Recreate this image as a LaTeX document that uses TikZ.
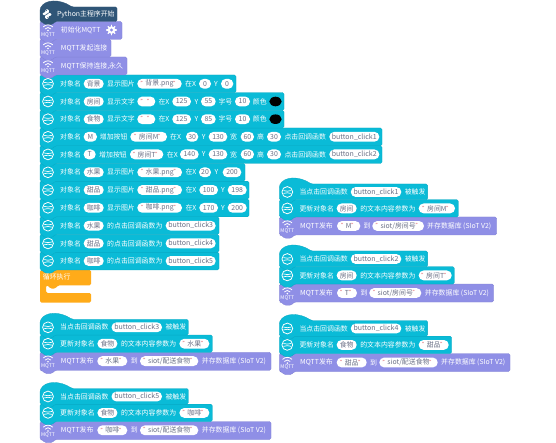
\documentclass[tikz,border=0pt]{standalone}
\usepackage{fontspec}
\setmainfont{Noto Sans CJK SC}
\definecolor{BlockCyan}{HTML}{0ABBD7}
\definecolor{EdgeCyan}{HTML}{08A8C2}
\definecolor{BlockPurple}{HTML}{8F8FE6}
\definecolor{EdgePurple}{HTML}{8080D4}
\definecolor{BlockOrange}{HTML}{FFAB19}
\definecolor{BlockNavy}{HTML}{2F5577}
\definecolor{PillText}{HTML}{6A7086}
\definecolor{QuoteRed}{HTML}{D0404A}
\tikzset{
  lbl/.style={anchor=west,inner sep=0pt,text=white,font=\fontsize{6.9}{8}\selectfont},
  pill/.style={fill=white,rounded corners=4.8pt,minimum height=9.8pt,inner sep=0pt,text=PillText,font=\fontsize{6.9}{8}\selectfont},
  cyanrow/.style={fill=BlockCyan,draw=EdgeCyan,line width=.3pt,rounded corners=1.5pt},
  purplerow/.style={fill=BlockPurple,draw=EdgePurple,line width=.3pt,rounded corners=1.5pt},
  objicon/.pic={
    \draw[white,line width=.8pt] (0,0) circle[radius=5.4];
    \draw[white,line width=.7pt] (-3.7,-1.4) .. controls (-1.5,-.6) and (1.5,-.6) .. (3.7,-1.4);
    \draw[white,line width=.7pt] (-3.7,1.4) .. controls (-1.5,.6) and (1.5,.6) .. (3.7,1.4);
  },
  wifiicon/.pic={
    \draw[white,line width=.8pt] (-4.6,-3.2) .. controls (-2.2,-5.8) and (2.2,-5.8) .. (4.6,-3.2);
    \draw[white,line width=.8pt] (-2.8,-1.1) .. controls (-1,-3) and (1,-3) .. (2.8,-1.1);
    \fill[white] (0,.6) circle[radius=.9];
    \node[inner sep=0pt,text=white,font=\fontsize{5}{6}\selectfont] at (0,5) {MQTT};
  },
  snakeicon/.pic={
    \fill[white,rounded corners=1pt] (-1.6,-4.7) -- (1.8,-4.7) -- (1.8,-.8) -- (-1,-.8) -- (-1,1) -- (-4.3,1) -- (-4.3,-1.6) -- (-1.6,-1.6) -- cycle;
    \fill[white,rounded corners=1pt] (1.6,4.7) -- (-1.8,4.7) -- (-1.8,.8) -- (1,.8) -- (1,-1) -- (4.3,-1) -- (4.3,1.6) -- (1.6,1.6) -- cycle;
    \fill[BlockNavy] (-.6,-3.6) circle[radius=.5];
    \fill[BlockNavy] (.6,3.6) circle[radius=.5];
  },
  gearicon/.pic={
    \foreach \a in {0,45,...,315}{\draw[white,line width=1.3pt] (0,0) -- (\a:4.8);}
    \fill[white] (0,0) circle[radius=3.8];
    \fill[BlockPurple] (0,0) circle[radius=1.7];
  }
}
\newcommand{\Lbl}[2]{\node[lbl] at (#1,\ry) {#2};}
\newcommand{\Pill}[3]{\node[pill,minimum width={#2-#1}] at ({(#1+#2)/2},\ry) {#3};}
\newcommand{\qmark}{\makebox[2.4pt]{\raisebox{.8pt}{\fontsize{5}{5}\selectfont\textcolor{QuoteRed}{"}}}}
\newcommand{\Q}[1]{\qmark\kern1.1pt #1\kern1.1pt\qmark}
\newcommand{\Btn}[1]{{\fontsize{7}{8}\selectfont button\_click#1}}
% style, left, top, right, bottom
\newcommand{\stackrow}[5]{\draw[#1] (#2,#3) -- (#4,#3) -- (#4,#5) -- ({#2+15},#5) -- ({#2+12},{#5+3.2}) -- ({#2+5},{#5+3.2}) -- ({#2+2},#5) -- (#2,#5) -- cycle;}
\newcommand{\hatrow}[5]{\draw[#1] (#2,{#3+2}) .. controls ({#2+5},{#3-8}) and ({#2+20},{#3-8}) .. ({#2+32},#3) -- (#4,#3) -- (#4,#5) -- ({#2+15},#5) -- ({#2+12},{#5+3.2}) -- ({#2+5},{#5+3.2}) -- ({#2+2},#5) -- (#2,#5) -- cycle;}
% button number, object, quoted text, its pill right end, row right end
\newcommand{\callbackrows}[5]{
  \stackrow{cyanrow}{40}{15.7}{#5}{33}
  \hatrow{cyanrow}{40}{0}{188.3}{15.7}
  \def\ry{8}
  \pic at (48,\ry) {objicon};
  \Lbl{60}{当点击回调函数} \Pill{111.5}{162}{\Btn{#1}} \Lbl{165.3}{被触发}
  \def\ry{24.4}
  \pic at (48,\ry) {objicon};
  \Lbl{60}{更新对象名} \Pill{97.4}{117.4}{#2} \Lbl{120.8}{的文本内容参数为} \Pill{179.4}{#4}{\Q{#3}}
}
\begin{document}
\begin{tikzpicture}[x=1pt,y=-1pt,line cap=round,line join=round]
  \useasboundingbox[fill=white] (0,0) rectangle (556,443);

  % main stack, drawn upwards so that each bump lies on the row below
  \fill[BlockOrange,rounded corners=1.5pt] (40,270) -- (91,270) -- (91,285.3) -- (58,285.3) -- (55.5,288.5) -- (50,288.5) -- (47.8,285.3) -- (46,285.3) -- (46,293) -- (91,293) -- (91,302.7) -- (40,302.7) -- cycle;
  \stackrow{cyanrow}{40}{252.2}{219}{270}
  \stackrow{cyanrow}{40}{234.5}{219}{252.2}
  \stackrow{cyanrow}{40}{216.8}{219}{234.5}
  \stackrow{cyanrow}{40}{199}{249}{216.8}
  \stackrow{cyanrow}{40}{181.2}{249}{199}
  \stackrow{cyanrow}{40}{163.5}{245}{181.2}
  \stackrow{cyanrow}{40}{145.8}{382}{163.5}
  \stackrow{cyanrow}{40}{128}{382}{145.8}
  \stackrow{cyanrow}{40}{110.3}{284}{128}
  \stackrow{cyanrow}{40}{92.6}{284}{110.3}
  \stackrow{cyanrow}{40}{75}{236}{92.6}
  \stackrow{purplerow}{40}{57}{127}{75}
  \stackrow{purplerow}{40}{39.3}{111}{57}
  \stackrow{purplerow}{40}{21.5}{122}{39.3}
  \hatrow{fill=BlockNavy,draw=BlockNavy,rounded corners=1.5pt}{40}{7}{117}{21.5}

  \def\ry{14.2} \pic at (47,\ry) {snakeicon}; \Lbl{56.8}{Python主程序开始}
  \def\ry{30} \pic at (48,\ry) {wifiicon}; \Lbl{60.7}{初始化MQTT} \pic at (111.5,\ry) {gearicon};
  \def\ry{48} \pic at (48,\ry) {wifiicon}; \Lbl{60.7}{MQTT发起连接}
  \def\ry{66} \pic at (48,\ry) {wifiicon}; \Lbl{60.7}{MQTT保持连接,永久}

  \def\ry{83.8} \pic at (48,\ry) {objicon};
  \Lbl{60}{对象名} \Pill{83.7}{103.7}{背景} \Lbl{107}{显示图片} \Pill{137.3}{181.7}{\Q{背景.png}}
  \Lbl{185}{在X} \Pill{199}{211}{0} \Lbl{214}{Y} \Pill{221}{233.3}{0}

  \def\ry{101.5} \pic at (48,\ry) {objicon};
  \Lbl{60}{对象名} \Pill{83.7}{103.7}{房间} \Lbl{107}{显示文字} \Pill{137.3}{155.3}{\Q{\ }}
  \Lbl{158.3}{在X} \Pill{172.3}{191}{125} \Lbl{194.3}{Y} \Pill{201}{215.7}{55}
  \Lbl{218.3}{字号} \Pill{235}{250}{10} \Lbl{252.7}{颜色}
  \fill (275.5,\ry) ellipse[x radius=6.2,y radius=4.8];

  \def\ry{119.2} \pic at (48,\ry) {objicon};
  \Lbl{60}{对象名} \Pill{83.7}{103.7}{食物} \Lbl{107}{显示文字} \Pill{137.3}{155.3}{\Q{\ }}
  \Lbl{158.3}{在X} \Pill{172.3}{191}{125} \Lbl{194.3}{Y} \Pill{201}{215.7}{85}
  \Lbl{218.3}{字号} \Pill{235}{250}{10} \Lbl{252.7}{颜色}
  \fill (275.5,\ry) ellipse[x radius=6.2,y radius=4.8];

  \def\ry{136.8} \pic at (48,\ry) {objicon};
  \Lbl{60}{对象名} \Pill{83.7}{97}{M} \Lbl{99.7}{增加按钮} \Pill{130.3}{167}{\Q{房间M}}
  \Lbl{170}{在X} \Pill{186}{198.3}{30} \Lbl{201.7}{Y} \Pill{208.7}{227.3}{130}
  \Lbl{230}{宽} \Pill{240.7}{254}{60} \Lbl{257}{高} \Pill{267}{281}{30}
  \Lbl{284.3}{点击回调函数} \Pill{329.3}{379.3}{\Btn{1}}

  \def\ry{154.4} \pic at (48,\ry) {objicon};
  \Lbl{60}{对象名} \Pill{83.7}{95.7}{T} \Lbl{99}{增加按钮} \Pill{130}{163.3}{\Q{房间T}}
  \Lbl{166.7}{在X} \Pill{180}{198.7}{140} \Lbl{201.7}{Y} \Pill{208.7}{227.3}{130}
  \Lbl{230}{宽} \Pill{240.7}{254}{60} \Lbl{257}{高} \Pill{267}{281}{30}
  \Lbl{284.3}{点击回调函数} \Pill{329.3}{379.3}{\Btn{2}}

  \def\ry{172.3} \pic at (48,\ry) {objicon};
  \Lbl{60}{对象名} \Pill{83.7}{103.7}{水果} \Lbl{107}{显示图片} \Pill{137.3}{182}{\Q{水果.png}}
  \Lbl{185.3}{在X} \Pill{199}{211}{20} \Lbl{214.3}{Y} \Pill{222.7}{241.3}{200}

  \def\ry{190} \pic at (48,\ry) {objicon};
  \Lbl{60}{对象名} \Pill{83.7}{103.7}{甜品} \Lbl{107}{显示图片} \Pill{137.3}{182}{\Q{甜品.png}}
  \Lbl{185.3}{在X} \Pill{199.3}{218}{100} \Lbl{221}{Y} \Pill{227.7}{246.7}{198}

  \def\ry{207.8} \pic at (48,\ry) {objicon};
  \Lbl{60}{对象名} \Pill{83.7}{103.7}{咖啡} \Lbl{107}{显示图片} \Pill{137.3}{182}{\Q{咖啡.png}}
  \Lbl{185.3}{在X} \Pill{199.3}{218}{170} \Lbl{221}{Y} \Pill{227.7}{246.7}{200}

  \def\ry{225.7} \pic at (48,\ry) {objicon};
  \Lbl{60}{对象名} \Pill{83.7}{103.7}{水果} \Lbl{107}{的点击回调函数为} \Pill{165.7}{215.7}{\Btn{3}}
  \def\ry{243.4} \pic at (48,\ry) {objicon};
  \Lbl{60}{对象名} \Pill{83.7}{103.7}{甜品} \Lbl{107}{的点击回调函数为} \Pill{165.7}{215.7}{\Btn{4}}
  \def\ry{261} \pic at (48,\ry) {objicon};
  \Lbl{60}{对象名} \Pill{83.7}{103.7}{咖啡} \Lbl{107}{的点击回调函数为} \Pill{165.7}{215.7}{\Btn{5}}

  \def\ry{277.4} \Lbl{42.7}{循环执行}

  % callback stacks, x as in the left column, y from the top of the first row
  \begin{scope}[shift={(0,319.3)}]
    \stackrow{purplerow}{40}{33}{271}{51}
    \callbackrows{3}{食物}{水果}{209.3}{212.3}
    \def\ry{41.8} \pic at (48,\ry) {wifiicon};
    \Lbl{60.7}{MQTT发布} \Pill{97.3}{127.3}{\Q{水果}} \Lbl{130.7}{到} \Pill{140}{198.3}{\Q{siot/配送食物}} \Lbl{201.7}{并存数据库 (SIoT V2)}
  \end{scope}
  \begin{scope}[shift={(0,388.5)}]
    \stackrow{purplerow}{40}{33}{271}{51}
    \callbackrows{5}{食物}{咖啡}{209.3}{212.3}
    \def\ry{41.8} \pic at (48,\ry) {wifiicon};
    \Lbl{60.7}{MQTT发布} \Pill{97.3}{127.3}{\Q{咖啡}} \Lbl{130.7}{到} \Pill{140}{198.3}{\Q{siot/配送食物}} \Lbl{201.7}{并存数据库 (SIoT V2)}
  \end{scope}
  \begin{scope}[shift={(239.3,184)}]
    \stackrow{purplerow}{40}{33}{257.4}{51}
    \callbackrows{1}{房间}{房间M}{215.7}{219}
    \def\ry{42} \pic at (48,\ry) {wifiicon};
    \Lbl{60.7}{MQTT发布} \Pill{97.7}{121}{\Q{M}} \Lbl{124}{到} \Pill{133}{184.7}{\Q{siot/房间号}} \Lbl{187.7}{并存数据库 (SIoT V2)}
  \end{scope}
  \begin{scope}[shift={(239.3,251)}]
    \stackrow{purplerow}{40}{33}{254.4}{51}
    \callbackrows{2}{房间}{房间T}{212.4}{215}
    \def\ry{42} \pic at (48,\ry) {wifiicon};
    \Lbl{60.7}{MQTT发布} \Pill{97.7}{117.7}{\Q{T}} \Lbl{121}{到} \Pill{130}{182}{\Q{siot/房间号}} \Lbl{185.4}{并存数据库 (SIoT V2)}
  \end{scope}
  \begin{scope}[shift={(239.3,320.5)}]
    \stackrow{purplerow}{40}{33}{270.7}{51}
    \callbackrows{4}{食物}{甜品}{209.4}{212.4}
    \def\ry{42} \pic at (48,\ry) {wifiicon};
    \Lbl{60.7}{MQTT发布} \Pill{97.4}{127.4}{\Q{甜品}} \Lbl{130.7}{到} \Pill{140}{198.4}{\Q{siot/配送食物}} \Lbl{201.7}{并存数据库 (SIoT V2)}
  \end{scope}
\end{tikzpicture}
\end{document}
